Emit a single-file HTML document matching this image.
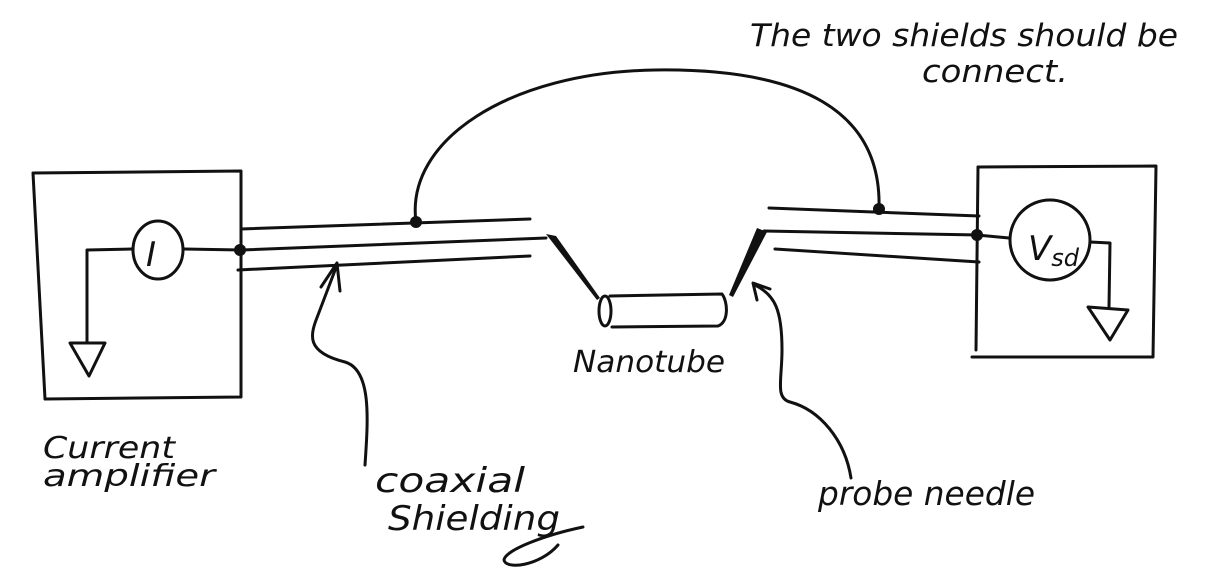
<!DOCTYPE html>
<html><head><meta charset="utf-8"><style>
html,body{margin:0;padding:0;background:#fff;}
svg{display:block;}
text{font-family:"DejaVu Sans","Liberation Sans",sans-serif;font-style:oblique;fill:#111;}
</style></head><body>
<svg width="1207" height="573" viewBox="0 0 1207 573" xmlns="http://www.w3.org/2000/svg">
<g fill="none" stroke="#111" stroke-width="3" stroke-linecap="round" stroke-linejoin="round">
<path d="M33,173 L241,171 L241,397 L45,399 Z"/>
<ellipse cx="158" cy="250" rx="25" ry="29"/>
<path d="M132,249 L87,250 L87,343"/>
<path d="M70,343 L105,343 L89,376 Z"/>
<path d="M184,249 L241,250"/>
<path d="M241,229 L530,219"/>
<path d="M241,250 L546,238"/>
<path d="M238,270 L530,256"/>
<path d="M416,222 C405,140 510,72 655,70 C800,68 882,110 879,209"/>
<path d="M769,208 L979,216"/>
<path d="M764,231 L979,235"/>
<path d="M775,249 L979,262"/>
<path d="M978,167 L1156,166 L1153,357 L972,357"/>
<path d="M978,167 L976,350"/>
<ellipse cx="1050" cy="240" rx="40" ry="40"/>
<path d="M1090,242 L1110,243 L1109,307"/>
<path d="M1088,307 L1128,310 L1110,340 Z"/>
<path d="M977,235 L1009,238"/>
<ellipse cx="605" cy="311" rx="6" ry="15"/>
<path d="M610,296 L722,294 C728,302 729,322 718,326 L612,327"/>
<path d="M365,465 C368,420 372,370 345,362 C305,352 310,335 318,315 L337,265"/>
<path d="M321,287 L337,263 L340,291"/>
<path d="M851,478 C845,440 820,410 790,402 C775,398 782,380 782,350 C782,310 775,295 755,285"/>
<path d="M757,300 L753,283 L770,289"/>
<path d="M583,527 C545,535 505,550 504,560 C506,570 540,566 558,545"/>
</g>
<g fill="#111">
<circle cx="240" cy="250" r="6"/>
<circle cx="416" cy="222" r="6"/>
<circle cx="879" cy="209" r="6"/>
<circle cx="977" cy="235" r="6"/>
<path d="M546,234 L556,236 L600,298 L597,300 Z"/>
<path d="M757,228 L767,232 L733,297 L729,295 Z"/>
</g>
<text x="146" y="266" font-size="34">I</text>
<text x="1028" y="260" font-size="34">V<tspan font-size="24" dy="6">sd</tspan></text>
<text x="750" y="46" font-size="31" textLength="428" lengthAdjust="spacingAndGlyphs">The two shields should be</text>
<text x="922" y="82" font-size="31" textLength="146" lengthAdjust="spacingAndGlyphs">connect.</text>
<text x="573" y="372" font-size="30" textLength="152" lengthAdjust="spacingAndGlyphs">Nanotube</text>
<text x="43" y="458" font-size="30" textLength="132" lengthAdjust="spacingAndGlyphs">Current</text>
<text x="43" y="486" font-size="30" textLength="172" lengthAdjust="spacingAndGlyphs">amplifier</text>
<text x="375" y="492" font-size="34" textLength="150" lengthAdjust="spacingAndGlyphs">coaxial</text>
<text x="388" y="530" font-size="34" textLength="172" lengthAdjust="spacingAndGlyphs">Shielding</text>
<text x="818" y="505" font-size="33" textLength="217" lengthAdjust="spacingAndGlyphs">probe needle</text>
</svg>
</body></html>
